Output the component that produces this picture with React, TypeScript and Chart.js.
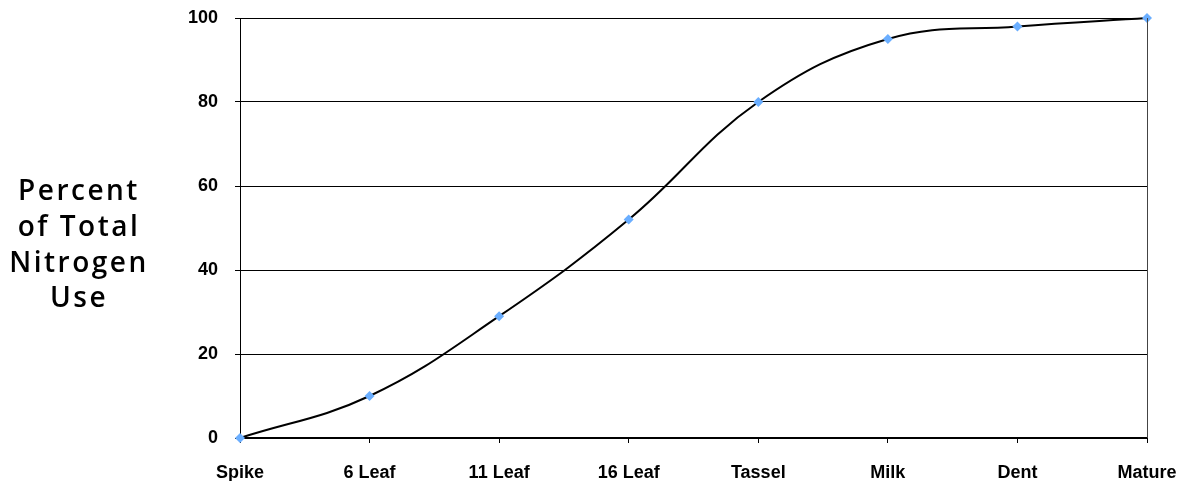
import React, { useEffect, useRef } from "react";
import { Chart, registerables } from "chart.js";

Chart.register(...registerables);

const categories = ["Spike", "6 Leaf", "11 Leaf", "16 Leaf", "Tassel", "Milk", "Dent", "Mature"];
const nitrogenUse = [0, 10, 29, 52, 80, 95, 98, 100];
const yTicks = [0, 20, 40, 60, 80, 100];
const yTitleLines = ["Percent", "of Total", "Nitrogen", "Use"];

const yTitlePlugin = {
  id: "yTitleAndBorder",
  afterDraw(chart: any) {
    const ctx = chart.ctx;
    const area = chart.chartArea;
    ctx.save();
    ctx.strokeStyle = "#444";
    ctx.lineWidth = 1;
    ctx.beginPath();
    ctx.moveTo(area.right + 0.5, area.top);
    ctx.lineTo(area.right + 0.5, area.bottom);
    ctx.stroke();
    ctx.fillStyle = "#000";
    ctx.font = "600 28px 'Open Sans'";
    (ctx as any).letterSpacing = "2.5px";
    ctx.textAlign = "center";
    ctx.textBaseline = "alphabetic";
    const baselines = [200, 236, 272, 307];
    yTitleLines.forEach((t, i) => {
      ctx.fillText(t, 79, baselines[i]);
    });
    ctx.restore();
  },
};

export default function App() {
  const ref = useRef<HTMLCanvasElement | null>(null);
  useEffect(() => {
    if (!ref.current) return;
    const chart = new Chart(ref.current, {
      type: "line",
      data: {
        labels: categories,
        datasets: [
          {
            data: nitrogenUse,
            borderColor: "#000",
            borderWidth: 2,
            tension: 0.4,
            pointStyle: "rectRot",
            pointRadius: 5,
            pointBackgroundColor: "#6aaeff",
            pointBorderColor: "#6aaeff",
            pointBorderWidth: 0,
            clip: false,
          } as any,
        ],
      },
      options: {
        animation: false,
        responsive: false,
        maintainAspectRatio: false,
        layout: { padding: { left: 0, right: 37, top: 18, bottom: 0 } },
        plugins: { legend: { display: false }, tooltip: { enabled: false } },
        scales: {
          x: {
            offset: false,
            grid: { drawOnChartArea: false, drawTicks: true, tickLength: 5, color: "#000" },
            border: { color: "#000", width: 2 },
            ticks: {
              color: "#000",
              font: { family: "'Liberation Sans', Arial", size: 18, weight: "bold" },
              padding: 19,
              maxRotation: 0,
              autoSkip: false,
            },
            afterFit(scale: any) {
              scale.height = 43;
              scale.paddingLeft = 0;
              scale.paddingRight = 0;
            },
          },
          y: {
            min: 0,
            max: 100,
            afterBuildTicks(scale: any) {
              scale.ticks = yTicks.map((v) => ({ value: v }));
            },
            grid: { color: "#000", lineWidth: 1, tickLength: 5 },
            border: { color: "#000", width: 1 },
            ticks: {
              color: "#000",
              font: { family: "'Liberation Sans', Arial", size: 18, weight: "bold" },
              padding: 17,
            },
            afterFit(scale: any) {
              scale.width = 240;
              scale.paddingTop = 0;
              scale.paddingBottom = 0;
            },
          },
        },
      },
      plugins: [yTitlePlugin],
    });
    return () => chart.destroy();
  }, []);
  return (
    <div style={{ position: "fixed", left: 0, top: 0, width: 1184, height: 481, background: "#fff" }}>
      <canvas ref={ref} width={1184} height={481} style={{ width: 1184, height: 481 }} />
    </div>
  );
}
